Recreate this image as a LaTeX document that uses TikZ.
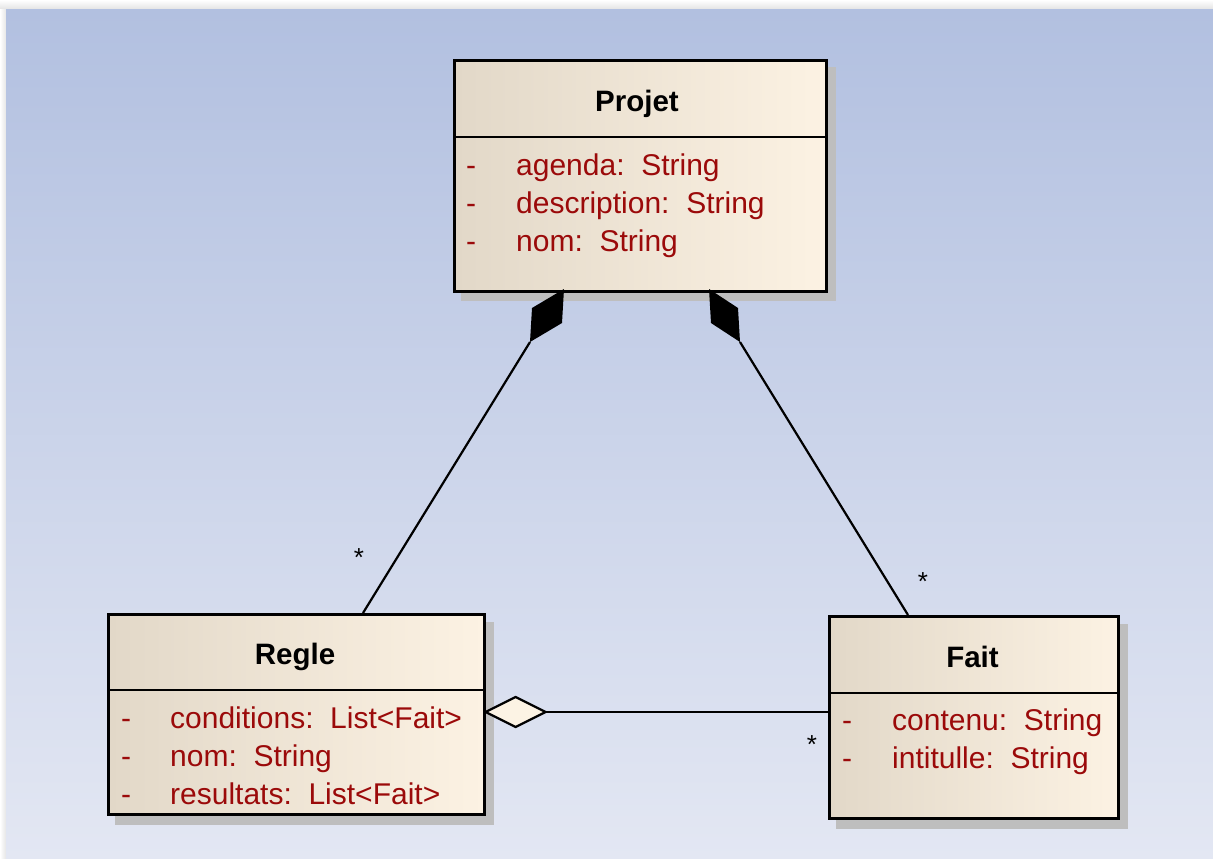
\documentclass[tikz,border=0pt]{standalone}
\usepackage{fontspec}
\setmainfont{Liberation Sans}
\usetikzlibrary{calc}
\definecolor{bgtop}{RGB}{178,192,224}
\definecolor{bgbot}{RGB}{227,231,243}
\definecolor{boxL}{RGB}{226,216,200}
\definecolor{boxR}{RGB}{252,242,227}
\definecolor{attrred}{RGB}{155,10,10}
\definecolor{shadowgray}{RGB}{190,190,190}
\definecolor{diafill}{RGB}{252,243,228}
\pgfdeclarelayer{pagebg}
\pgfdeclarelayer{shadowlayer}
\pgfsetlayers{pagebg,shadowlayer,main}
\begin{document}
\begin{tikzpicture}[x=1pt,y=-1pt,
  classbox/.style={draw=black, line width=2.6pt, left color=boxL, right color=boxR,
                   anchor=north west, inner sep=0pt},
  divider/.style={draw=black, line width=2.4pt},
  titletext/.style={font=\fontsize{29.5}{34}\selectfont\bfseries, inner sep=0pt, anchor=base},
  attrtext/.style={font=\fontsize{30}{34}\selectfont, text=attrred, inner sep=0pt, anchor=base west},
  multtext/.style={font=\fontsize{26}{30}\selectfont, inner sep=0pt, anchor=base},
  conn/.style={draw=black, line width=2.2pt},
  compdia/.style={fill=black},
  aggdia/.style={draw=black, line width=2.2pt, fill=diafill, line join=miter},
  shadowbox/.style={fill=shadowgray}
]
\useasboundingbox (0,0) rectangle (1213,859);

% page background
\begin{pgfonlayer}{pagebg}
  \fill[white] (0,0) rectangle (1213,859);
  \shade[top color=white, bottom color=black!12] (0,0) rectangle (1213,10);
  \shade[left color=white, right color=black!10] (0,10) rectangle (6,859);
  \shade[top color=bgtop, bottom color=bgbot] (6,10) rectangle (1213,859);
\end{pgfonlayer}

% classes
\node[classbox, minimum width=372pt, minimum height=231pt] (projet) at (453,59) {};
\node[classbox, minimum width=376pt, minimum height=200pt] (regle) at (107,613) {};
\node[classbox, minimum width=289pt, minimum height=202pt] (fait) at (828,615) {};

% shadows
\begin{pgfonlayer}{shadowlayer}
  \fill[shadowbox] ($(projet.north west)+(8,8)$) rectangle ($(projet.south east)+(8,8)$);
  \fill[shadowbox] ($(regle.north west)+(8,9)$) rectangle ($(regle.south east)+(8,9)$);
  \fill[shadowbox] ($(fait.north west)+(8,9)$) rectangle ($(fait.south east)+(8,9)$);
\end{pgfonlayer}

% dividers
\draw[divider] ($(projet.north west)+(0,78)$) -- ($(projet.north east)+(0,78)$);
\draw[divider] ($(regle.north west)+(0,77)$) -- ($(regle.north east)+(0,77)$);
\draw[divider] ($(fait.north west)+(0,78)$) -- ($(fait.north east)+(0,78)$);

% titles
\node[titletext] (projet-title) at (637,111) {Projet};
\node[titletext] (regle-title) at (295,664) {Regle};
\node[titletext] (fait-title) at (972.5,667) {Fait};

% attributes
\node[attrtext] (projet-a1) at (466,175) {\makebox[50pt][l]{-}agenda:~~String};
\node[attrtext] (projet-a2) at (466,213) {\makebox[50pt][l]{-}description:~~String};
\node[attrtext] (projet-a3) at (466,251) {\makebox[50pt][l]{-}nom:~~String};

\node[attrtext] (regle-a1) at (121,728) {\makebox[49pt][l]{-}conditions:~~List<Fait>};
\node[attrtext] (regle-a2) at (121,766) {\makebox[49pt][l]{-}nom:~~String};
\node[attrtext] (regle-a3) at (121,804) {\makebox[49pt][l]{-}resultats:~~List<Fait>};

\node[attrtext] (fait-a1) at (842,730) {\makebox[50pt][l]{-}contenu:~~String};
\node[attrtext] (fait-a2) at (842,768) {\makebox[50pt][l]{-}intitulle:~~String};

% attachment coordinates
\coordinate (dLtip) at (564,289);
\coordinate (dLb) at (530,342);
\coordinate (dRtip) at (709,289);
\coordinate (dRb) at (740,342);
\coordinate (rtop) at ($(regle.north west)+(256,0)$);
\coordinate (ftop) at ($(fait.north west)+(80,0)$);
\coordinate (aggL) at ($(regle.north east)+(0,99)$);
\coordinate (aggR) at ($(aggL)+(60,0)$);
\coordinate (fatt) at ($(fait.north west)+(0,97)$);

% composition Projet -- Regle
\draw[conn] (dLb) -- (rtop);
\fill[compdia] (dLtip) -- (562,323) -- (dLb) -- (532,308) -- cycle;
% composition Projet -- Fait
\draw[conn] (dRb) -- (ftop);
\fill[compdia] (dRtip) -- (711,323) -- (dRb) -- (738,308) -- cycle;
% aggregation Regle -- Fait
\draw[conn] (aggR) -- (fatt);
\draw[aggdia] (aggL) -- ($(aggL)+(30,-15)$) -- (aggR) -- ($(aggL)+(30,15)$) -- cycle;

% multiplicities
\node[multtext] (m1) at (359,566) {*};
\node[multtext] (m2) at (923,590) {*};
\node[multtext] (m3) at (812,753) {*};
\end{tikzpicture}
\end{document}
